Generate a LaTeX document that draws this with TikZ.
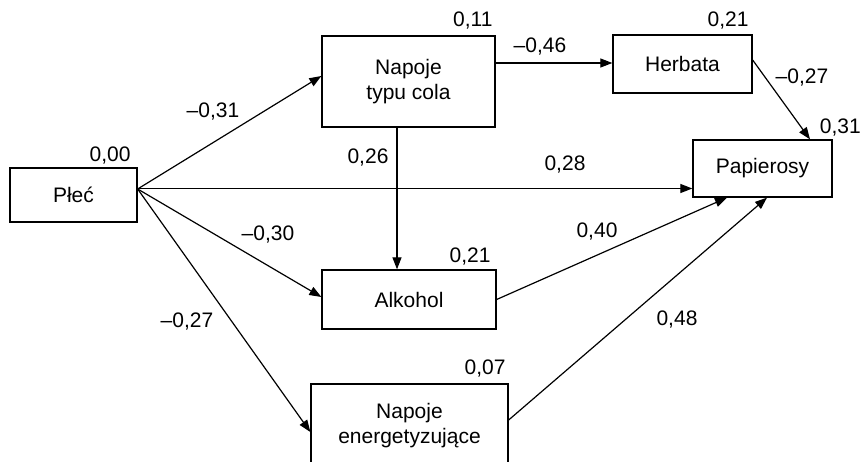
\documentclass[tikz,border=0pt]{standalone}
\usepackage{fontspec}
\setmainfont{Liberation Sans}
\usetikzlibrary{positioning, arrows.meta}

\begin{document}
\begin{tikzpicture}[
         x=1pt, y=1pt,
         >={Triangle[length=12pt, width=9pt]},
         every node/.style={font=\fontsize{21pt}{25pt}\selectfont},
         var/.style={draw, line width=1.3pt, align=center, inner sep=0pt},
         effect/.style={->, line width=1.2pt},
         coef/.style={inner sep=0pt},
         rsq/.style={inner sep=0pt}
      ]
         \useasboundingbox (0,0) rectangle (862,461);

         % Nodes for variables
         \node[var, minimum width=127pt, minimum height=54pt] (plec) at (73.5,266) {Płeć};
         \node[var, minimum width=173pt, minimum height=91pt] (cola) at (408.5,379.5) {Napoje\\typu cola};
         \node[var, minimum width=139pt, minimum height=58pt] (herbata) at (682.5,397) {Herbata};
         \node[var, minimum width=139pt, minimum height=57pt] (papierosy) at (762.5,292.5) {Papierosy};
         \node[var, minimum width=174pt, minimum height=59pt] (alkohol) at (409,161.5) {Alkohol};
         \node[var, minimum width=197pt, minimum height=84pt] (energia) at (409.5,35) {Napoje\\energetyzujące};

         % Explained variance
         \node[rsq, above left=2.5pt and 7pt of plec.north east] (r2plec) {0,00};
         \node[rsq, above left=5.5pt and 3pt of cola.north east] (r2cola) {0,11};
         \node[rsq, above left=4.5pt and 4pt of herbata.north east] (r2herbata) {0,21};
         \node[rsq, above right=2.5pt and -13pt of papierosy.north east] (r2papierosy) {0,31};
         \node[rsq, above left=3.5pt and 6pt of alkohol.north east] (r2alkohol) {0,21};
         \node[rsq, above left=5.5pt and 3pt of energia.north east] (r2energia) {0,07};

         % Paths
         \draw[effect] ([yshift=6pt]plec.east) -- ([yshift=5.5pt]cola.west);
         \draw[effect] ([yshift=6.5pt]plec.east) -- ([yshift=6.5pt]plec.east -| papierosy.west);
         \draw[effect] ([yshift=6pt]plec.east) -- ([yshift=2.5pt]alkohol.west);
         \draw[effect] ([yshift=6pt]plec.east) -- ([yshift=-6pt]energia.west);
         \draw[effect] ([yshift=18.5pt]cola.east) -- ([yshift=18.5pt]cola.east -| herbata.west);
         \draw[effect] ([xshift=-11.5pt]cola.south) -- ([xshift=-11.5pt]cola.south |- alkohol.north);
         \draw[effect] ([yshift=4pt]herbata.east) -- ([xshift=47.5pt]papierosy.north);
         \draw[effect] (alkohol.east) -- ([xshift=-35.5pt]papierosy.south);
         \draw[effect] ([yshift=6pt]energia.east) -- ([xshift=4.5pt]papierosy.south);

         % Path coefficients
         \node[coef] (b31) at (213,349) {–0,31};
         \node[coef] (b26) at (368,303) {0,26};
         \node[coef] (b28) at (565,296) {0,28};
         \node[coef] (b30) at (268,226) {–0,30};
         \node[coef] (b27e) at (187,139) {–0,27};
         \node[coef] (b46) at (540,414) {–0,46};
         \node[coef] (b27h) at (802,383) {–0,27};
         \node[coef] (b40) at (597,229) {0,40};
         \node[coef] (b48) at (677,141) {0,48};

      \end{tikzpicture}
\end{document}
